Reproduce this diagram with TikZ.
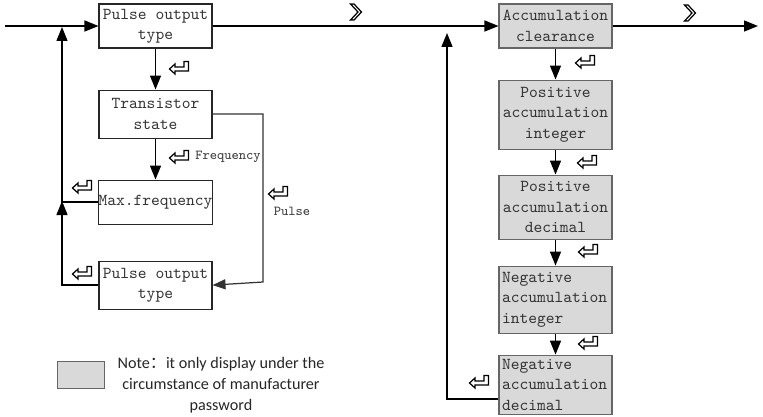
\documentclass[tikz,border=0pt]{standalone}
\usepackage{fontspec}
\newfontfamily\notefont{Carlito}
\newfontfamily\cjk{Noto Sans CJK SC}
\usetikzlibrary{arrows.meta,positioning,calc}
\definecolor{boxgray}{RGB}{217,217,217}
\definecolor{linegray}{RGB}{50,50,50}

\begin{document}
\begin{tikzpicture}[
    x=0.02cm, y=-0.02cm,
    box/.style={draw=black!85, line width=0.6pt, minimum width=2.26cm, inner xsep=0pt, inner ysep=0pt, align=center, font=\ttfamily\fontsize{9.5}{11.6}\selectfont, text=black!80},
    gbox/.style={box, fill=boxgray, draw=black!60},
    lbox/.style={gbox, align=left, text width=2.14cm, inner xsep=0.06cm},
    arr/.style={-{Triangle[length=0.28cm, width=0.22cm]}, thick},
    parr/.style={-{Triangle[length=0.26cm, width=0.2cm]}, color=linegray, line width=0.7pt},
    lbl/.style={font=\ttfamily\fontsize{7.8}{9}\selectfont, text=black!75},
    retkey/.pic={\draw[line width=0.7pt, fill=white] (-9.5,2) -- (-4,-3) -- (-4,0) -- (5,0) -- (5,-5.5) -- (9.5,-5.5) -- (9.5,4) -- (-4,4) -- (-4,7) -- cycle;},
    nextkey/.pic={\draw[line width=0.7pt, fill=white] (-5.5,-8) -- (-2,-8) -- (5.5,0) -- (-2,8) -- (-5.5,8) -- (2,0) -- cycle;}
]
\useasboundingbox (0,0) rectangle (763,416);

\node[box, minimum height=0.88cm] (pot1) at (155.5,26) {Pulse output\\type};
\node[box, minimum height=0.96cm, below=0.82cm of pot1] (trs) {Transistor\\state};
\node[box, minimum height=0.88cm, below=0.82cm of trs] (maxf) {Max.frequency};
\node[box, minimum height=0.96cm, below=0.72cm of maxf] (pot2) {Pulse output\\type};

\node[gbox, minimum height=0.88cm] (clr) at (555.5,26) {Accumulation\\clearance};
\node[gbox, minimum height=1.38cm, below=0.62cm of clr] (pai) {Positive\\accumulation\\integer};
\node[gbox, minimum height=1.28cm, below=0.5cm of pai] (pad) {Positive\\accumulation\\decimal};
\node[lbox, minimum height=1.34cm, below=0.52cm of pad] (nai) {Negative\\accumulation\\integer};
\node[lbox, minimum height=1.18cm, below=0.42cm of nai] (nad) {Negative\\accumulation\\decimal};

\node[draw=black!60, fill=boxgray, minimum width=0.94cm, minimum height=0.54cm] (lgd) at (80.5,374.5) {};
\node[font=\notefont\fontsize{9.2}{12}\selectfont, align=center, text=black!85] (note) at (221,385) {Note{\cjk ：}it only display under the\\circumstance of manufacturer\\password};

\coordinate (start) at (5,26);
\coordinate (finish) at (758,26);
\coordinate (j1) at (62,27);
\coordinate (j2) at (62,201);
\coordinate (pk) at (263,282);
\coordinate (j3) at (447,33);

\draw[arr] (start) -- (pot1.west);
\draw[arr] (pot1.east) -- (clr.west);
\draw[arr] (clr.east) -- (finish);
\draw[arr] (pot1.south) -- (trs.north);
\draw[arr] (trs.south) -- (maxf.north);
\draw[arr] (maxf.west) -| (j1);
\draw[arr] (pot2.west) -| (j2);
\draw[parr] (trs.east) -| (pk) -- (pot2.east);

\draw[arr] (clr.south) -- (pai.north);
\draw[arr] (pai.south) -- (pad.north);
\draw[arr] (pad.south) -- (nai.north);
\draw[arr] (nai.south) -- (nad.north);
\draw[arr] ($(nad.west)+(0,14.5)$) -| (j3);

\pic at (356,12) {nextkey};
\pic at (690,13) {nextkey};
\pic at (179,67) {retkey};
\pic at (179,156) {retkey};
\pic at (82,186) {retkey};
\pic at (82,272) {retkey};
\pic at (278,192) {retkey};
\pic at (585,61) {retkey};
\pic at (587,161) {retkey};
\pic at (588,250) {retkey};
\pic at (588,342) {retkey};
\pic at (479,381) {retkey};

\node[lbl] (freq) at (228,157) {Frequency};
\node[lbl] (pulse) at (292,211) {Pulse};
\end{tikzpicture}
\end{document}
